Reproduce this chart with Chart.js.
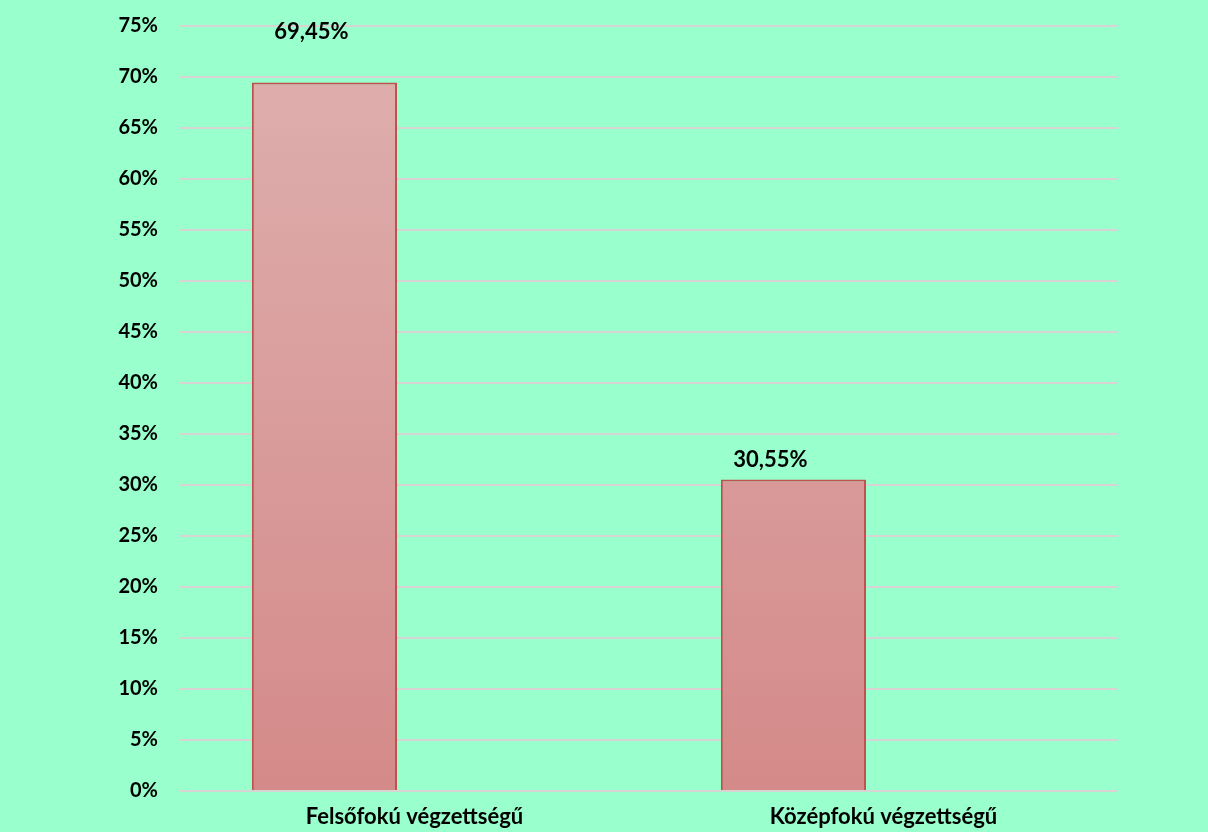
<!DOCTYPE html>
<html><head><meta charset="utf-8">
<script src="https://cdn.jsdelivr.net/npm/chart.js@4.4.0/dist/chart.umd.min.js"></script>
<style>html,body{margin:0;padding:0;background:#99FFCC;}#wrap{width:1208px;height:832px;}</style>
</head><body><div id="wrap"><canvas id="c" width="1208" height="832"></canvas></div>
<script>
const categories = ["Felsőfokú végzettségű", "Középfokú végzettségű"];
const values = [69.45, 30.55];
const valueLabels = ["69,45%", "30,55%"];
const emptySeries = [null, null];
const yTicks = [0,5,10,15,20,25,30,35,40,45,50,55,60,65,70,75];

const FONT = "Lato, 'Open Sans', sans-serif";

const bgPlugin = {
  id: 'bg',
  beforeDraw(chart) {
    const ctx = chart.ctx;
    ctx.save();
    ctx.fillStyle = '#99FFCC';
    ctx.fillRect(0, 0, chart.width, chart.height);
    ctx.restore();
  }
};

const labelPlugin = {
  id: 'vlabels',
  afterDatasetsDraw(chart, args, opts) {
    const ctx = chart.ctx;
    const meta = chart.getDatasetMeta(0);
    ctx.save();
    ctx.font = 'bold 22px ' + FONT;
    ctx.fillStyle = '#000';
    ctx.textAlign = 'center';
    ctx.textBaseline = 'middle';
    meta.data.forEach((bar, i) => {
      ctx.fillText(valueLabels[i], bar.x + opts.dx[i], bar.y - opts.lift[i]);
    });
    ctx.restore();
  }
};

const ctx = document.getElementById('c').getContext('2d');
new Chart(ctx, {
  type: 'bar',
  data: {
    labels: categories,
    datasets: [{
      data: values,
      backgroundColor(c) {
        const area = c.chart.chartArea;
        if (!area) return '#D99594';
        const g = c.chart.ctx.createLinearGradient(0, area.top, 0, area.bottom);
        g.addColorStop(0, '#DEB0AF');
        g.addColorStop(1, '#D48A89');
        return g;
      },
      borderColor: '#C0504D',
      borderWidth: 2,
      borderSkipped: 'bottom',
      categoryPercentage: 0.768,
      barPercentage: 0.806
    }, {
      data: emptySeries,
      categoryPercentage: 0.768,
      barPercentage: 0.806
    }]
  },
  options: {
    responsive: false,
    animation: false,
    devicePixelRatio: 1,
    layout: { padding: { top: 0, right: 90, left: 0, bottom: 0 } },
    plugins: {
      legend: { display: false },
      tooltip: { enabled: false },
      vlabels: { lift: [51, 19], dx: [-13, -23] }
    },
    scales: {
      x: {
        afterFit(axis) { axis.height = 41; },
        grid: { display: false },
        border: { display: false },
        ticks: { color: '#000', font: { family: FONT, size: 22, weight: 'bold' }, padding: 5, maxRotation: 0 }
      },
      y: {
        min: 0, max: 75,
        afterBuildTicks(axis) { axis.ticks = yTicks.map(v => ({ value: v })); },
        afterFit(axis) { axis.width = 180; axis.paddingTop = 26; axis.paddingBottom = 0; },
        grid: { color: '#D9D4D4', lineWidth: 2, drawTicks: false },
        border: { display: false },
        ticks: { color: '#000', font: { family: FONT, size: 20, weight: 'bold' }, padding: 22, callback: v => v + '%' }
      }
    }
  },
  plugins: [bgPlugin, labelPlugin]
});
</script></body></html>
